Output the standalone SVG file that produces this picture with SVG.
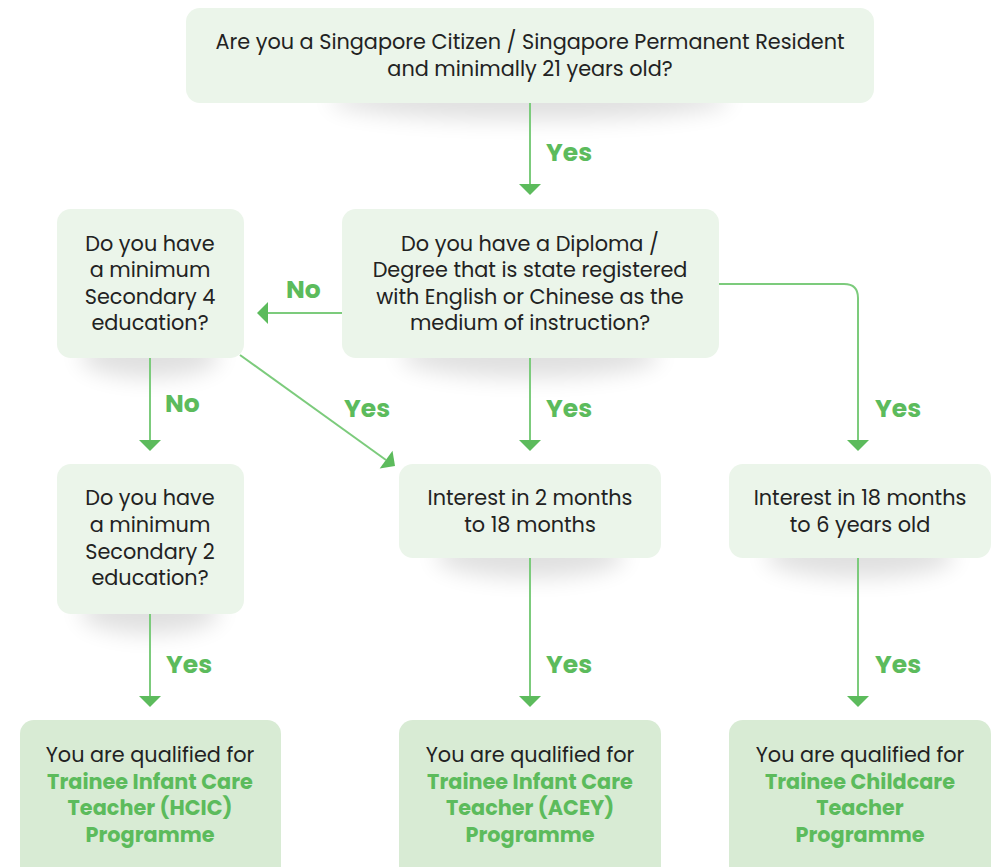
<svg xmlns="http://www.w3.org/2000/svg" width="997" height="867" viewBox="0 0 997 867">
<defs>
<style>
.box{fill:#EBF5EA}
.res{fill:#D8EBD4}
.t{font-family:"Poppins","Open Sans","Noto Sans",sans-serif;font-size:20.8px;fill:#222;text-anchor:middle}
.g{font-family:"Poppins","Open Sans","Noto Sans",sans-serif;font-size:20.8px;font-weight:700;fill:#5CBB5C;text-anchor:middle}
.lbl{font-family:"Poppins","Open Sans","Noto Sans",sans-serif;font-size:25px;font-weight:700;fill:#5CBB5C}
.ln{fill:none;stroke:#7CCB7C;stroke-width:2}
.ah{fill:#5CBB5C}
.sh{fill:#000;opacity:0.12;filter:url(#blur)}
</style>
<filter id="blur" x="-50%" y="-100%" width="200%" height="300%"><feGaussianBlur stdDeviation="11"/></filter>
</defs>
<rect width="997" height="867" fill="#fff"/>

<g id="shadows">
<ellipse class="sh" cx="530" cy="100" rx="200" ry="20"/>
<ellipse class="sh" cx="150" cy="356" rx="70" ry="22"/>
<ellipse class="sh" cx="530" cy="356" rx="130" ry="22"/>
<ellipse class="sh" cx="150" cy="612" rx="70" ry="22"/>
<ellipse class="sh" cx="530" cy="556" rx="95" ry="22"/>
<ellipse class="sh" cx="860" cy="556" rx="95" ry="22"/>
</g>

<g id="connectors">
<path class="ln" d="M530,103 V184"/>
<path class="ah" d="M519,184 H541 L530,195 Z"/>
<path class="ln" d="M342,313 H268"/>
<path class="ah" d="M268,302 V324 L257,313 Z"/>
<path class="ln" d="M719,284 H844 Q858,284 858,298 V440"/>
<path class="ah" d="M847,440 H869 L858,451 Z"/>
<path class="ln" d="M150,358 V440"/>
<path class="ah" d="M139,440 H161 L150,451 Z"/>
<path class="ln" d="M240,355 L386,460"/>
<path class="ah" d="M379.7,468.5 L392.5,450.7 L395,466 Z"/>
<path class="ln" d="M530,358 V440"/>
<path class="ah" d="M519,440 H541 L530,451 Z"/>
<path class="ln" d="M150,614 V696"/>
<path class="ah" d="M139,696 H161 L150,707 Z"/>
<path class="ln" d="M530,558 V696"/>
<path class="ah" d="M519,696 H541 L530,707 Z"/>
<path class="ln" d="M858,558 V696"/>
<path class="ah" d="M847,696 H869 L858,707 Z"/>
<text class="lbl" x="546" y="161">Yes</text>
<text class="lbl" x="286" y="298">No</text>
<text class="lbl" x="165" y="412">No</text>
<text class="lbl" x="344" y="417">Yes</text>
<text class="lbl" x="546" y="417">Yes</text>
<text class="lbl" x="875" y="417">Yes</text>
<text class="lbl" x="166" y="673">Yes</text>
<text class="lbl" x="546" y="673">Yes</text>
<text class="lbl" x="875" y="673">Yes</text>
</g>

<g id="q1">
<rect class="box" x="186" y="8" width="688" height="95" rx="14"/>
<text class="t" x="530" y="49">Are you a Singapore Citizen / Singapore Permanent Resident</text>
<text class="t" x="530" y="76">and minimally 21 years old?</text>
</g>

<g id="q2">
<rect class="box" x="342" y="209" width="377" height="149" rx="14"/>
<text class="t" x="530" y="251">Do you have a Diploma /</text>
<text class="t" x="530" y="277">Degree that is state registered</text>
<text class="t" x="530" y="304">with English or Chinese as the</text>
<text class="t" x="530" y="330">medium of instruction?</text>
</g>

<g id="q3">
<rect class="box" x="57" y="209" width="187" height="149" rx="14"/>
<text class="t" x="150" y="251">Do you have</text>
<text class="t" x="150" y="277">a minimum</text>
<text class="t" x="150" y="304">Secondary 4</text>
<text class="t" x="150" y="330">education?</text>
</g>

<g id="q4">
<rect class="box" x="57" y="464" width="187" height="150" rx="14"/>
<text class="t" x="150" y="505">Do you have</text>
<text class="t" x="150" y="532">a minimum</text>
<text class="t" x="150" y="559">Secondary 2</text>
<text class="t" x="150" y="585">education?</text>
</g>

<g id="q5">
<rect class="box" x="399" y="464" width="262" height="94" rx="14"/>
<text class="t" x="530" y="505">Interest in 2 months</text>
<text class="t" x="530" y="532">to 18 months</text>
</g>

<g id="q6">
<rect class="box" x="729" y="464" width="262" height="94" rx="14"/>
<text class="t" x="860" y="505">Interest in 18 months</text>
<text class="t" x="860" y="532">to 6 years old</text>
</g>

<g id="r1">
<rect class="res" x="20" y="720" width="261" height="170" rx="14"/>
<text class="t" x="150" y="762">You are qualified for</text>
<text class="g" x="150" y="789">Trainee Infant Care</text>
<text class="g" x="150" y="815">Teacher (HCIC)</text>
<text class="g" x="150" y="842">Programme</text>
</g>

<g id="r2">
<rect class="res" x="399" y="720" width="262" height="170" rx="14"/>
<text class="t" x="530" y="762">You are qualified for</text>
<text class="g" x="530" y="789">Trainee Infant Care</text>
<text class="g" x="530" y="815">Teacher (ACEY)</text>
<text class="g" x="530" y="842">Programme</text>
</g>

<g id="r3">
<rect class="res" x="729" y="720" width="262" height="170" rx="14"/>
<text class="t" x="860" y="762">You are qualified for</text>
<text class="g" x="860" y="789">Trainee Childcare</text>
<text class="g" x="860" y="815">Teacher</text>
<text class="g" x="860" y="842">Programme</text>
</g>
</svg>
